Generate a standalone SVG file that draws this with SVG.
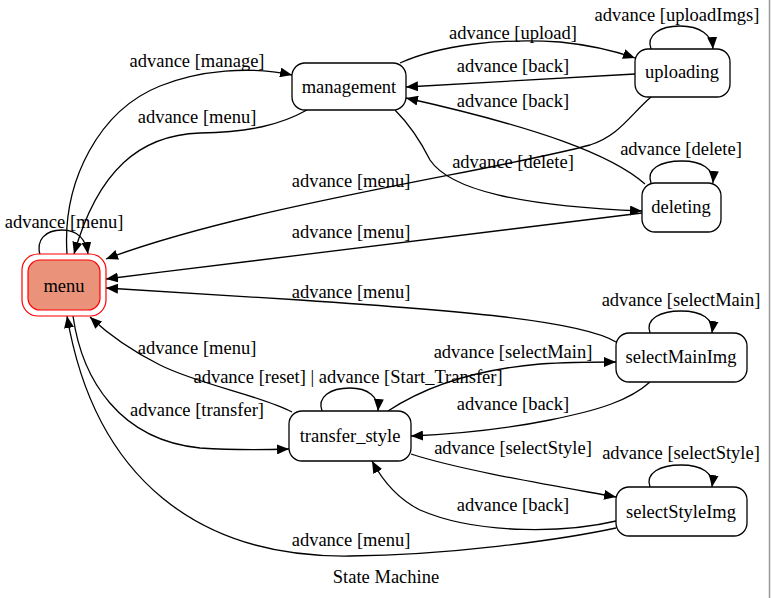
<svg xmlns="http://www.w3.org/2000/svg" width="771" height="598" viewBox="0 0 771 598">
<style>
text{font-family:"Liberation Serif","Times New Roman",serif;font-size:18.5px;fill:#000;text-anchor:middle}
.n{fill:#fff;stroke:#000;stroke-width:1.3}
.e{fill:none;stroke:#000;stroke-width:1.3}
</style>
<defs>
<marker id="a" markerUnits="userSpaceOnUse" markerWidth="13" markerHeight="10" refX="12" refY="5" orient="auto">
<path d="M0,0 L12,5 L0,10 z" fill="#000"/>
</marker>
</defs>
<rect width="771" height="598" fill="#fff"/>
<line x1="769.5" y1="0" x2="769.5" y2="598" stroke="#999" stroke-width="1.5"/>
<g id="connectors">
<path class="e" marker-end="url(#a)" d="M67,254 C62,180 100,110 160,86 C200,70 250,66 292,75"/>
<text x="197" y="67">advance [manage]</text>
<path class="e" marker-end="url(#a)" d="M307,110 C280,125 250,132 200,133 C140,135 98,170 74,254"/>
<text x="197" y="123">advance [menu]</text>
<path class="e" marker-end="url(#a)" d="M40,255 C36,240 45,230 62,230 C78,230 86,240 88,254"/>
<text x="64" y="228">advance [menu]</text>
<path class="e" marker-end="url(#a)" d="M400,63 C440,45 500,38 560,42 C590,45 612,50 635,58"/>
<text x="513" y="39">advance [upload]</text>
<path class="e" marker-end="url(#a)" d="M635,74 L406,87"/>
<text x="513" y="72">advance [back]</text>
<path class="e" marker-end="url(#a)" d="M651,49 C646,35 660,26 680,26 C700,26 712,35 713,49"/>
<text x="677" y="21">advance [uploadImgs]</text>
<path class="e" marker-end="url(#a)" d="M645,184 C612,155 540,128 406,98"/>
<text x="513" y="107">advance [back]</text>
<path class="e" marker-end="url(#a)" d="M651,183 C646,169 660,161 682,161 C702,161 714,169 713,183"/>
<text x="681" y="155">advance [delete]</text>
<path class="e" marker-end="url(#a)" d="M395,110 C410,125 420,140 430,160 C450,190 520,206 642,211"/>
<text x="513" y="168">advance [delete]</text>
<path class="e" marker-end="url(#a)" d="M651,97 C630,115 620,135 590,145 C500,170 250,205 106,259"/>
<text x="351" y="187">advance [menu]</text>
<path class="e" marker-end="url(#a)" d="M642,213 C500,230 300,255 106,279"/>
<text x="351" y="238">advance [menu]</text>
<path class="e" marker-end="url(#a)" d="M616,342 C580,320 450,310 300,300 C220,295 160,291 106,288"/>
<text x="351" y="298">advance [menu]</text>
<path class="e" marker-end="url(#a)" d="M650,333 C645,319 660,311 681,311 C702,311 714,319 712,333"/>
<text x="681" y="306">advance [selectMain]</text>
<path class="e" marker-end="url(#a)" d="M292,412 C260,395 200,385 160,365 C130,350 108,334 90,317"/>
<text x="197" y="354">advance [menu]</text>
<path class="e" marker-end="url(#a)" d="M73,316 C82,380 120,440 200,448 C230,450 260,450 289,449"/>
<text x="197" y="416">advance [transfer]</text>
<path class="e" marker-end="url(#a)" d="M616,528 C560,540 450,555 350,556 C200,558 95,480 67,316"/>
<text x="351" y="546">advance [menu]</text>
<path class="e" marker-end="url(#a)" d="M322,411 C317,397 330,388 350,388 C368,388 379,397 378,411"/>
<text x="348" y="383">advance [reset] | advance [Start_Transfer]</text>
<path class="e" marker-end="url(#a)" d="M388,411 C420,390 470,370 540,364 C570,362 592,362 616,362"/>
<text x="513" y="358">advance [selectMain]</text>
<path class="e" marker-end="url(#a)" d="M650,382 C630,400 600,410 550,420 C500,430 460,434 411,436"/>
<text x="513" y="410">advance [back]</text>
<path class="e" marker-end="url(#a)" d="M411,454 C460,470 550,485 616,497"/>
<text x="513" y="454">advance [selectStyle]</text>
<path class="e" marker-end="url(#a)" d="M616,521 C570,532 480,536 420,510 C400,500 385,485 372,461"/>
<text x="513" y="511">advance [back]</text>
<path class="e" marker-end="url(#a)" d="M650,487 C645,473 660,465 681,465 C702,465 714,473 712,487"/>
<text x="681" y="459">advance [selectStyle]</text>
</g>
<g id="menu">
<rect x="22" y="254" width="84" height="62" rx="16" fill="#fff" stroke="#f00" stroke-width="1.2"/>
<rect x="28" y="260" width="72" height="50" rx="12" fill="#EA937A" stroke="#f00" stroke-width="1.2"/>
<text x="64" y="292">menu</text>
</g>
<g id="management">
<rect class="n" x="292" y="63" width="114" height="47" rx="13"/>
<text x="349" y="93">management</text>
</g>
<g id="uploading">
<rect class="n" x="635" y="49" width="95" height="48" rx="13"/>
<text x="682" y="78">uploading</text>
</g>
<g id="deleting">
<rect class="n" x="642" y="183" width="79" height="49" rx="13"/>
<text x="681" y="213">deleting</text>
</g>
<g id="selectMainImg">
<rect class="n" x="616" y="333" width="131" height="49" rx="13"/>
<text x="681" y="363">selectMainImg</text>
</g>
<g id="transfer_style">
<rect class="n" x="289" y="411" width="122" height="50" rx="13"/>
<text x="350" y="442">transfer_style</text>
</g>
<g id="selectStyleImg">
<rect class="n" x="616" y="487" width="131" height="49" rx="13"/>
<text x="681" y="518">selectStyleImg</text>
</g>
<text x="386" y="583">State Machine</text>
</svg>
